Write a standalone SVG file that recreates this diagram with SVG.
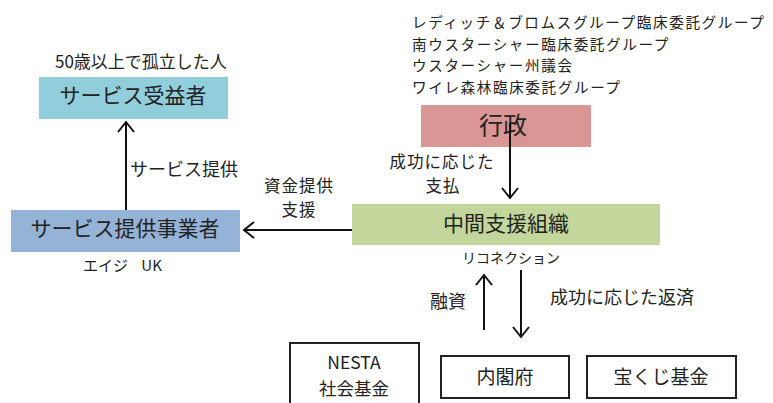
<svg xmlns="http://www.w3.org/2000/svg" width="773" height="403" viewBox="0 0 773 403">
<style>
text { font-family: "Noto Sans CJK JP", "Noto Sans", sans-serif; fill: #222; }
.box { font-size: 21px; text-anchor: middle; }
.lbl { font-size: 18px; }
.top { font-size: 14.6px; letter-spacing: 1.6px; }
.sm { font-size: 14px; }
.wbox { fill: #fff; stroke: #222; stroke-width: 2; }
.conn { stroke: #111; stroke-width: 2; fill: none; marker-end: url(#chev); }
</style>
<defs>
<marker id="chev" markerUnits="userSpaceOnUse" markerWidth="14" markerHeight="20" refX="11" refY="9" viewBox="0 0 14 18" orient="auto">
<path d="M1,1 L11,9 L1,17" fill="none" stroke="#111" stroke-width="2"/>
</marker>
</defs>
<rect width="773" height="403" fill="#fff"/>

<g id="beneficiary">
<text class="lbl" x="55" y="68" style="font-size:17px">50歳以上で孤立した人</text>
<rect x="39" y="77" width="189" height="42" fill="#92cddc"/>
<text class="box" x="133" y="103">サービス受益者</text>
</g>

<g id="provider">
<rect x="11" y="210" width="229" height="42" fill="#95b3d7"/>
<text class="box" x="125" y="236">サービス提供事業者</text>
<text class="sm" x="83" y="271" style="font-size:15px; word-spacing:10px">エイジ UK</text>
</g>

<g id="government">
<text class="top" x="412" y="28">レディッチ＆ブロムスグループ臨床委託グループ</text>
<text class="top" x="412" y="50">南ウスターシャー臨床委託グループ</text>
<text class="top" x="412" y="71">ウスターシャー州議会</text>
<text class="top" x="412" y="93">ワイレ森林臨床委託グループ</text>
<rect x="421" y="105" width="170" height="42" fill="#d99694"/>
<text class="box" x="503" y="134" style="font-size:24px">行政</text>
</g>

<g id="intermediary">
<rect x="352" y="204" width="308" height="41" fill="#c3d69b"/>
<text class="box" x="506" y="231">中間支援組織</text>
<text class="sm" x="511" y="263" text-anchor="middle">リコネクション</text>
</g>

<g id="nesta">
<rect class="wbox" x="290" y="343" width="129" height="64"/>
<text class="lbl" x="354" y="369" text-anchor="middle" style="font-size:17.5px">NESTA</text>
<text class="lbl" x="354" y="395" text-anchor="middle" style="font-size:17.5px">社会基金</text>
</g>

<g id="cabinet">
<rect class="wbox" x="441" y="356" width="128" height="42"/>
<text class="lbl" x="505" y="384" text-anchor="middle" style="font-size:19px">内閣府</text>
</g>

<g id="lottery">
<rect class="wbox" x="587" y="356" width="149" height="42"/>
<text class="lbl" x="661" y="384" text-anchor="middle" style="font-size:19px">宝くじ基金</text>
</g>

<g id="connectors">
<line class="conn" x1="510" y1="123" x2="510" y2="198"/>
<line class="conn" x1="352" y1="230" x2="244" y2="230"/>
<line class="conn" x1="126" y1="210" x2="126" y2="122"/>
<line class="conn" x1="484" y1="330" x2="484" y2="275"/>
<line class="conn" x1="521" y1="270" x2="521" y2="337"/>
<text class="lbl" x="130" y="176">サービス提供</text>
<text class="lbl" x="299" y="192" text-anchor="middle" style="font-size:16.5px; letter-spacing:1px">資金提供</text>
<text class="lbl" x="299" y="216" text-anchor="middle" style="font-size:16.5px; letter-spacing:1px">支援</text>
<text class="lbl" x="442" y="168" text-anchor="middle" style="font-size:16.5px; letter-spacing:1px">成功に応じた</text>
<text class="lbl" x="443" y="192" text-anchor="middle" style="font-size:16.5px; letter-spacing:1px">支払</text>
<text class="lbl" x="430" y="308">融資</text>
<text class="lbl" x="550" y="304">成功に応じた返済</text>
</g>
</svg>
